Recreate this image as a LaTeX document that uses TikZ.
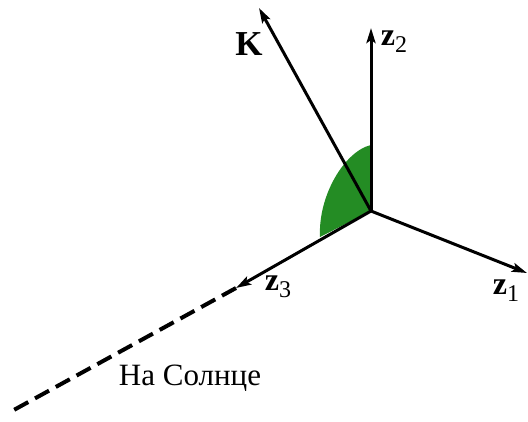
\documentclass[tikz,border=0pt]{standalone}
\usepackage{fontspec}
\setmainfont{Liberation Serif}
\usetikzlibrary{arrows.meta}
\definecolor{sectorgreen}{RGB}{36,140,36}
\begin{document}
\begin{tikzpicture}[x=1pt,y=-1pt,
  axis/.style={line width=3pt,-{Stealth[length=15pt,width=9pt,inset=3pt]}},
  sunline/.style={line width=4pt,dash pattern=on 16pt off 7.7pt},
  lbl/.style={inner sep=0pt,font=\fontsize{32}{36}\selectfont}]
\useasboundingbox (0,0) rectangle (528,421);
\coordinate (O) at (371,211);
\coordinate (z1) at (527,273);
\coordinate (z2) at (371,28);
\coordinate (z3) at (236,288);
\coordinate (K) at (259,8);
\coordinate (sun) at (12,411);
\coordinate (gtop) at (371,145);
\coordinate (gbot) at (320,237);
\fill[sectorgreen] (O) -- (gtop) .. controls (345,151) and (318,195) .. (gbot) -- cycle;
\draw[sunline] (z3) -- (sun);
\draw[axis] (O) -- (z1);
\draw[axis] (O) -- (z2);
\draw[axis] (O) -- (z3);
\draw[axis] (O) -- (K);
\node[lbl] (lz1) at (506,291) {\textbf{z}\raisebox{-0.22em}{\fontsize{24}{24}\selectfont 1}};
\node[lbl] (lz2) at (394,42) {\textbf{z}\raisebox{-0.22em}{\fontsize{24}{24}\selectfont 2}};
\node[lbl] (lz3) at (278,287) {\textbf{z}\raisebox{-0.22em}{\fontsize{24}{24}\selectfont 3}};
\node[lbl,font=\fontsize{35}{40}\selectfont] (lK) at (249,44) {\textbf{K}};
\node[lbl,font=\fontsize{31}{36}\selectfont] (lsun) at (190,378) {На Солнце};
\end{tikzpicture}
\end{document}
